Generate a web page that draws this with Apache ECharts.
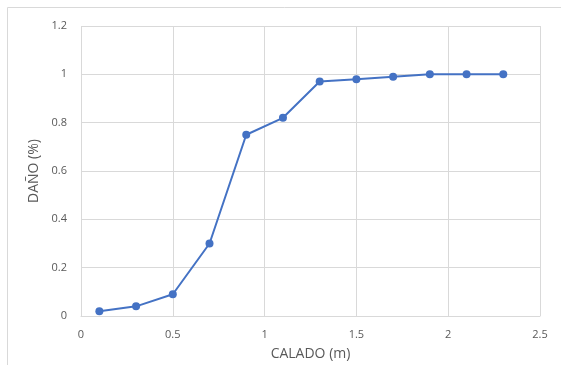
<!DOCTYPE html>
<html>
<head>
<meta charset="utf-8">
<script src="https://cdn.jsdelivr.net/npm/echarts@6/dist/echarts.min.js"></script>
<style>
  html, body { margin: 0; padding: 0; background: #fff; }
  #main { width: 561px; height: 365px; }
</style>
</head>
<body>
<div id="main"></div>
<script>
// calado (m) y daño
var calado = [0.1, 0.3, 0.5, 0.7, 0.9, 1.1, 1.3, 1.5, 1.7, 1.9, 2.1, 2.3];
var dano = [0.02, 0.04, 0.09, 0.30, 0.75, 0.82, 0.97, 0.98, 0.99, 1.0, 1.0, 1.0];

var puntos = calado.map(function (x, i) { return [x, dano[i]]; });

var myChart = echarts.init(document.getElementById('main'));
var labelStyle = { color: '#595959', fontFamily: 'Open Sans', fontSize: 11 };

var option = {
  animation: false,
  graphic: [{
    type: 'rect',
    shape: { x: 7.5, y: 7.5, width: 560, height: 370 },
    style: { fill: 'none', stroke: '#d9d9d9', lineWidth: 1 }
  }],
  grid: { left: 81, right: 21, top: 26, bottom: 49, outerBoundsMode: 'none' },
  xAxis: {
    type: 'value',
    min: 0, max: 2.5, interval: 0.5,
    name: 'CALADO (m)',
    nameLocation: 'middle',
    nameGap: 31,
    nameTextStyle: { color: '#595959', fontFamily: 'Open Sans', fontSize: 14 },
    axisLine: { show: true, lineStyle: { color: '#d9d9d9' } },
    axisTick: { show: false },
    axisLabel: Object.assign({ margin: 13 }, labelStyle),
    splitLine: { show: true, lineStyle: { color: '#d9d9d9' } }
  },
  yAxis: {
    type: 'value',
    min: 0, max: 1.2, interval: 0.2,
    name: 'DAÑO (%)',
    nameLocation: 'middle',
    nameGap: 36,
    nameTextStyle: { color: '#595959', fontFamily: 'Open Sans', fontSize: 14 },
    axisLine: { show: false },
    axisTick: { show: false },
    axisLabel: Object.assign({ margin: 14 }, labelStyle),
    splitLine: { show: true, lineStyle: { color: '#d9d9d9' } }
  },
  series: [{
    type: 'line',
    data: puntos,
    symbol: 'circle',
    symbolSize: 8,
    lineStyle: { color: '#4472c4', width: 2 },
    itemStyle: { color: '#4472c4' }
  }]
};

myChart.setOption(option);
</script>
</body>
</html>
